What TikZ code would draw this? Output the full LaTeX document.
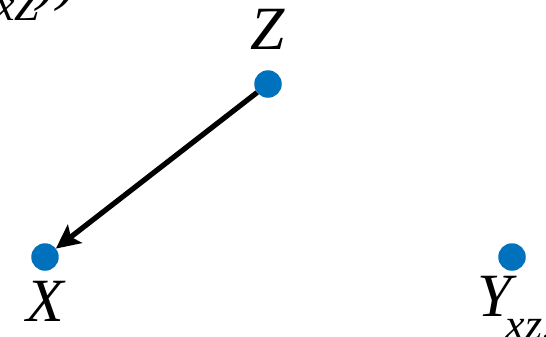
\documentclass[tikz,border=0pt]{standalone}
\usepackage{fontspec}
\setmainfont{Liberation Serif}
\usetikzlibrary{arrows.meta,positioning}
\definecolor{dotblue}{RGB}{0,114,189}

\begin{document}
\begin{tikzpicture}[
  x=0.02cm, y=-0.02cm,
  dot/.style={circle, fill=dotblue, inner sep=0pt, outer sep=0pt,
    minimum size=0.55cm},
  lab/.style={inner sep=0pt, font=\fontsize{35}{40}\selectfont\itshape},
  sublab/.style={inner sep=0pt, font=\fontsize{25}{28}\selectfont\itshape},
  arr/.style={-{Stealth[length=0.48cm, width=0.46cm, inset=0.1cm]},
    line width=0.105cm}
]
  \useasboundingbox (0,0) rectangle (546,336);
  \node[dot] (z) at (268,84)  {};
  \node[dot] (x) at (45,257)  {};
  \node[dot] (y) at (512,257) {};

  \node[lab, above=0.4cm of z] (zlab) {Z};
  \node[lab, below=0.2cm of x] (xlab) {X};
  \node[lab, anchor=base west] (ylab)
    at ([xshift=-0.5cm, yshift=-0.99cm]y.south west) {Y};
  \node[sublab, anchor=base west] (ysub)
    at ([xshift=-0.14cm, yshift=-0.46cm]ylab.base east) {xz.};

  % cut-off formula at the top left
  \node[sublab, anchor=base west] (psub) at (-5,20) {xZ};
  \node[lab, anchor=base west] (pclose) at (37,-2) {))};

  \draw[arr] (z) -- (x);
\end{tikzpicture}
\end{document}
